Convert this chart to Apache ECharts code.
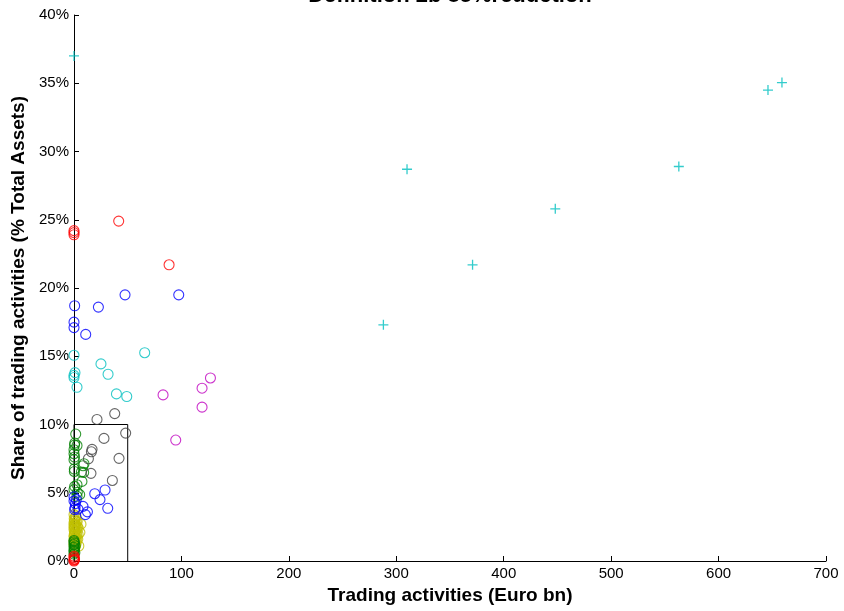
<!DOCTYPE html>
<html>
<head>
<meta charset="utf-8">
<script src="https://cdn.jsdelivr.net/npm/echarts@6/dist/echarts.min.js"></script>
<style>html,body{margin:0;padding:0;background:#fff}#chart{width:844px;height:611px}</style>
</head>
<body>
<div id="chart"></div>
<script>
// ---- data (x: Euro bn, y: % of total assets) ----
const titleText = "Definition 2b 85%reduction";
const xName = "Trading activities (Euro bn)";
const yName = "Share of trading activities (% Total Assets)";
const xTicks = [0, 100, 200, 300, 400, 500, 600, 700];
const yTicks = [0, 5, 10, 15, 20, 25, 30, 35, 40];

const yellowPts = [[0,3.4],[1.5,3.2],[0.5,3.0],[3,2.9],[0,2.8],[6.5,2.7],[2,2.6],[0.8,2.5],[4,2.4],[0,2.3],[1.2,2.2],[5.5,2.1],[0.3,2.0],[2.5,1.9],[0,1.8],[1,1.7],[3.5,1.6],[0,1.5],[0.6,1.4],[2,1.3],[0,1.2],[4.5,1.1],[1,1.0],[0,2.6],[1.8,3.3],
  [0.2,3.1],[1,2.95],[2.2,2.85],[0.4,2.7],[1.4,2.65],[3.2,2.5],[0.1,2.45],[2.6,2.35],[0.7,2.15],[1.8,2.05],[3.8,1.95],[0.2,1.85],[1.5,1.75],[0.5,1.6],[2.4,1.55],[1.2,1.45],[0.3,1.3],[1.6,1.15],[0.4,1.05]];
const greenPts = [[1.6,9.3],[0.7,8.64],[0.5,8.49],[2.8,8.46],[0,8.15],[0,7.86],[0.5,7.62],[0,7.42],[8.4,6.98],[9.3,7.13],[0.3,6.74],[0.3,6.56],[6.9,6.52],[9.0,6.49],[7.4,5.83],[2.8,5.59],[0.6,5.47],[0,5.23],[5.3,4.86],[2.8,4.74],[3.1,5.03],
  [0,1.5],[0,1.4],[0.5,1.3],[0,1.2],[1,1.1],[0,1.0],[0.5,0.9],[0,0.8],[0,0.7],[0.8,0.6],[0,0.5]];
const bluePts = [[0.6,18.7],[22.7,18.6],[47.5,19.5],[97.5,19.5],[0,17.5],[0,17.1],[10.9,16.6],
  [19.3,4.93],[28.9,5.2],[24.2,4.5],[31.4,3.86],[8.4,4.0],[12.5,3.6],[10.6,3.4],[1.3,4.2],[2.2,4.5],[0.6,3.76],[3.7,3.8],[0,4.7],[0,4.4],[1,3.9]];
const grayPts = [[37.9,10.8],[21.4,10.37],[48.1,9.37],[27.9,8.98],[16.8,8.18],[16.2,8.0],[13.4,7.49],[41.9,7.52],[15.8,6.42],[35.7,5.9]];
const cyanPts = [[0,15.07],[65.8,15.26],[25.1,14.44],[31.7,13.68],[0.9,13.8],[0,13.6],[0,13.44],[2.8,12.73],[39.5,12.24],[49.1,12.05]];
const magentaPts = [[82.9,12.17],[119.2,12.66],[127,13.41],[119.2,11.27],[94.7,8.86]];
const redPts = [[0,24.2],[0,24.06],[0,23.9],[41.6,24.9],[88.5,21.7],[0,0.35],[0,0.25],[0.5,0.15],[0,0.05],[0,0.0],[0.3,0.1]];
const plusPts = [[0,37.0],[659,35.05],[646,34.5],[563,28.9],[448,25.8],[310,28.7],[371,21.7],[288,17.3]];
const boxPts = [[0,0],[0,10],[50,10],[50,0]];

const chart = echarts.init(document.getElementById('chart'));
function circles(data, color) {
  return {
    type: 'scatter', data: data, symbol: 'circle', symbolSize: 10,
    itemStyle: { color: 'none', borderColor: color, borderWidth: 1.1 },
    emphasis: { disabled: true }, clip: false, z: 3
  };
}
const font = 'Liberation Sans, Arial, Helvetica, sans-serif';
chart.setOption({
  animation: false,
  backgroundColor: '#fff',
  grid: { left: 74, right: 18, top: 15, bottom: 50, containLabel: false },
  graphic: [{
    type: 'text', x: 450, y: 7,
    style: { text: titleText, font: 'bold 22px ' + font, fill: '#000', textAlign: 'center', textVerticalAlign: 'bottom' }
  }],
  xAxis: {
    type: 'value', min: xTicks[0], max: xTicks[xTicks.length - 1], interval: 100,
    name: xName, nameLocation: 'middle', nameGap: 23,
    nameTextStyle: { fontFamily: font, fontSize: 19, fontWeight: 'bold', color: '#000' },
    axisLine: { show: true, lineStyle: { color: '#000', width: 1 } },
    axisTick: { show: true, inside: true, length: 5, lineStyle: { color: '#000' } },
    axisLabel: { fontFamily: font, fontSize: 15, color: '#000', margin: 5 },
    splitLine: { show: false }
  },
  yAxis: {
    type: 'value', min: yTicks[0], max: yTicks[yTicks.length - 1], interval: 5,
    name: yName, nameLocation: 'middle', nameGap: 44,
    nameTextStyle: { fontFamily: font, fontSize: 19, fontWeight: 'bold', color: '#000' },
    axisLine: { show: true, lineStyle: { color: '#000', width: 1 } },
    axisTick: { show: true, inside: true, length: 5, lineStyle: { color: '#000' } },
    axisLabel: { fontFamily: font, fontSize: 15, color: '#000', margin: 5, formatter: '{value}%' },
    splitLine: { show: false }
  },
  series: [
    { type: 'line', data: boxPts, symbol: 'none', lineStyle: { color: '#000', width: 1 }, z: 2, silent: true },
    circles(yellowPts, '#BFBF00'),
    circles(greenPts, '#008000'),
    circles(bluePts, '#0000FF'),
    circles(grayPts, '#404040'),
    circles(cyanPts, '#00BFBF'),
    circles(magentaPts, '#BF00BF'),
    circles(redPts, '#FF0000'),
    {
      type: 'scatter', data: plusPts, symbol: 'path://M5,0L5,10M0,5L10,5', symbolSize: 10,
      itemStyle: { color: 'none', borderColor: '#00BFBF', borderWidth: 1.3 },
      emphasis: { disabled: true }, clip: false, z: 4
    }
  ]
});
</script>
</body>
</html>
